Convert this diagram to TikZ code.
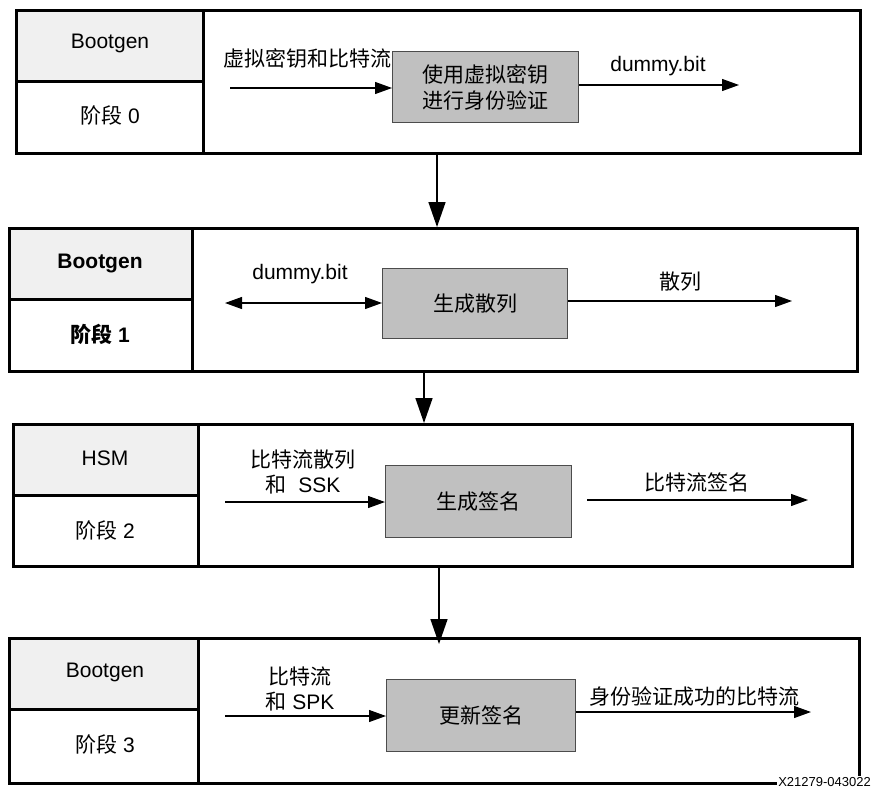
\documentclass[tikz,border=0pt]{standalone}
\usepackage{fontspec}
\setmainfont{Liberation Sans}
\newfontfamily\cjk{Noto Sans CJK SC}
\usetikzlibrary{arrows.meta}
\definecolor{hdrfill}{HTML}{F0F0F0}
\definecolor{procfill}{HTML}{C0C0C0}
\begin{document}
\begin{tikzpicture}[x=1pt,y=-1pt,
  font=\fontsize{21}{25}\selectfont,
  frame/.style={draw=black,line width=3pt,inner sep=0pt,anchor=north west},
  divider/.style={draw=black,line width=3pt},
  proc/.style={draw=black!70,fill=procfill,line width=1pt,inner sep=0pt,anchor=north west,
    align=center,font=\cjk\fontsize{21}{26}\selectfont},
  lbl/.style={inner sep=0pt,align=center},
  harrow/.style={draw=black,line width=1.2pt,-{Triangle[length=17pt,width=12pt]}},
  darrow/.style={draw=black,line width=1.2pt,{Triangle[length=17pt,width=12pt]}-{Triangle[length=17pt,width=12pt]}},
  varrow/.style={draw=black,line width=1.5pt,-{Triangle[length=25pt,width=17pt]}}]
\useasboundingbox (0,0) rectangle (872,790);

% ---------- Stage 0 ----------
\fill[hdrfill] (15,9) rectangle (203,81);
\node[frame,minimum width=844pt,minimum height=143pt] (s0) at (15,9) {};
\draw[divider] (203,9) -- (203,152);
\draw[divider] (15,81) -- (203,81);
\node[lbl] (h0) at (110,43) {Bootgen};
\node[lbl] (p0) at (110,115) {{\cjk 阶段} 0};
\node[proc,minimum width=186pt,minimum height=71pt] (g0) at (392,51) {使用虚拟密钥\\进行身份验证};
\coordinate (i0) at (230,88);
\coordinate (o0) at (739,85);
\draw[harrow] (i0) -- (i0 -| g0.west);
\draw[harrow] (o0 -| g0.east) -- (o0);
\node[lbl,font=\cjk\fontsize{21}{25}\selectfont] (l0a) at (307,58) {虚拟密钥和比特流};
\node[lbl] (l0b) at (658,66) {dummy.bit};

% ---------- Stage 1 ----------
\fill[hdrfill] (8,227) rectangle (192,299);
\node[frame,minimum width=848pt,minimum height=143pt] (s1) at (8,227) {};
\draw[divider] (192,227) -- (192,370);
\draw[divider] (8,299) -- (192,299);
\node[lbl,font=\bfseries\fontsize{21}{25}\selectfont] (h1) at (100,263) {Bootgen};
\node[lbl,font=\bfseries\fontsize{21}{25}\selectfont] (p1) at (100,334) {{\cjk\bfseries 阶段} 1};
\node[proc,minimum width=185pt,minimum height=70pt] (g1) at (382,268) {生成散列};
\coordinate (i1) at (225,303);
\coordinate (o1) at (792,301);
\draw[darrow] (i1) -- (i1 -| g1.west);
\draw[harrow] (o1 -| g1.east) -- (o1);
\node[lbl] (l1a) at (300,274) {dummy.bit};
\node[lbl,font=\cjk\fontsize{21}{25}\selectfont] (l1b) at (680,282) {散列};

% ---------- Stage 2 ----------
\fill[hdrfill] (12,423) rectangle (198,495);
\node[frame,minimum width=839pt,minimum height=142pt] (s2) at (12,423) {};
\draw[divider] (198,423) -- (198,565);
\draw[divider] (12,495) -- (198,495);
\node[lbl] (h2) at (105,458) {HSM};
\node[lbl] (p2) at (105,530) {{\cjk 阶段} 2};
\node[proc,minimum width=186pt,minimum height=72pt] (g2) at (385,465) {生成签名};
\coordinate (i2) at (225,502);
\coordinate (o2s) at (587,500);
\coordinate (o2) at (808,500);
\draw[harrow] (i2) -- (i2 -| g2.west);
\draw[harrow] (o2s) -- (o2);
\node[lbl] (l2a) at (303,472) {{\cjk 比特流散列}\\{\cjk 和}\ \ SSK};
\node[lbl,font=\cjk\fontsize{21}{25}\selectfont] (l2b) at (697,482) {比特流签名};

% ---------- Stage 3 ----------
\fill[hdrfill] (8,637) rectangle (198,709);
\node[frame,minimum width=850pt,minimum height=145pt] (s3) at (8,637) {};
\draw[divider] (198,637) -- (198,782);
\draw[divider] (8,709) -- (198,709);
\node[lbl] (h3) at (105,672) {Bootgen};
\node[lbl] (p3) at (105,744) {{\cjk 阶段} 3};
\node[proc,minimum width=189pt,minimum height=72pt] (g3) at (386,679) {更新签名};
\coordinate (i3) at (225,716);
\coordinate (o3) at (811,712);
\draw[harrow] (i3) -- (i3 -| g3.west);
\draw[harrow] (o3 -| g3.east) -- (o3);
\node[lbl] (l3a) at (300,689) {{\cjk 比特流}\\{\cjk 和} SPK};
\node[lbl,font=\cjk\fontsize{21}{25}\selectfont] (l3b) at (694,697) {身份验证成功的比特流};

% ---------- stage-to-stage arrows ----------
\coordinate (v0) at (437,152);
\coordinate (v1) at (424,370);
\coordinate (v2) at (439,565);
\draw[varrow] (v0) -- (v0 |- s1.north);
\draw[varrow] (v1) -- (v1 |- s2.north);
\draw[varrow] (v2) -- ([yshift=-7pt]v2 |- s3.north);

% ---------- figure id ----------
\node[fill=white,inner sep=1pt,anchor=east,font=\fontsize{13}{15}\selectfont] (fid) at (872,782) {X21279-043022};
\end{tikzpicture}
\end{document}
